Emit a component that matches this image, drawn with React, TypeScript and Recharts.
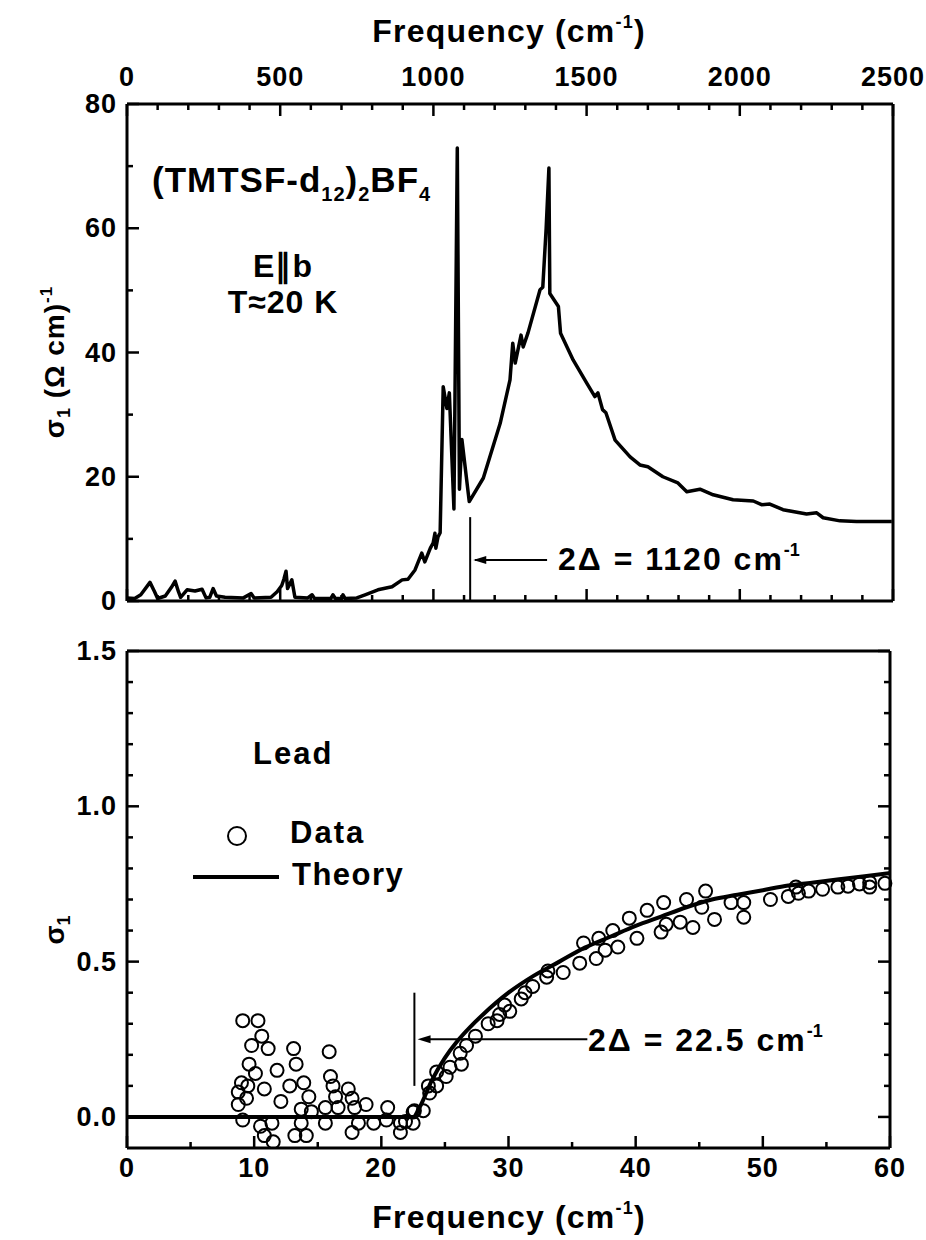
import React from 'react';
import { ComposedChart, Line, Scatter, XAxis, YAxis, ReferenceLine, ReferenceDot } from 'recharts';

// ---------- Top panel: (TMTSF-d12)2BF4, E||b, T~20 K ----------
const topFreq = [0, 25, 45, 75, 90, 100, 125, 145, 157, 168, 175, 196, 222, 245, 258, 270, 281, 292, 320, 380, 405, 415, 470, 490, 505, 512, 519, 524, 532, 538, 548, 590, 604, 612, 665, 672, 680, 700, 705, 712, 750, 777, 819, 865, 898, 917, 940, 962, 972, 990, 999, 1005, 1008, 1015, 1022, 1032, 1044, 1052, 1067, 1078, 1085, 1093, 1117, 1163, 1218, 1250, 1259, 1267, 1286, 1293, 1309, 1348, 1357, 1368, 1377, 1380, 1408, 1415, 1456, 1500, 1527, 1537, 1552, 1563, 1593, 1642, 1674, 1700, 1749, 1798, 1827, 1870, 1913, 1978, 2044, 2071, 2098, 2141, 2218, 2251, 2272, 2327, 2381, 2496];
const topSigma = [0.5, 0.4, 1.0, 3.0, 1.5, 0.4, 0.8, 2.2, 3.2, 1.5, 0.6, 1.8, 1.6, 1.9, 0.5, 0.6, 2.0, 0.8, 0.6, 0.5, 1.2, 0.5, 0.6, 1.5, 2.5, 3.5, 4.8, 2.0, 2.8, 3.4, 0.6, 0.5, 1.0, 0.4, 0.4, 1.0, 0.4, 0.4, 1.0, 0.4, 0.5, 1.0, 1.8, 2.3, 3.4, 3.5, 5.0, 7.7, 6.3, 8.5, 9.3, 10.9, 8.5, 10.3, 11.0, 34.5, 31.0, 33.5, 14.8, 72.9, 18.0, 26.0, 16.0, 19.8, 28.6, 35.6, 41.5, 38.3, 42.8, 40.9, 43.2, 50.1, 50.5, 60.0, 69.7, 49.5, 47.4, 43.1, 38.8, 35.1, 32.9, 33.5, 30.8, 30.3, 25.9, 23.2, 21.9, 21.6, 20.0, 19.0, 17.6, 18.0, 17.1, 16.3, 16.1, 15.5, 15.6, 14.7, 14.0, 14.2, 13.4, 12.9, 12.8, 12.8];
const topXTicks = [0, 100, 200, 300, 400, 500, 600, 700, 800, 900, 1000, 1100, 1200, 1300, 1400, 1500, 1600, 1700, 1800, 1900, 2000, 2100, 2200, 2300, 2400, 2500];
const topYTicks = [0, 10, 20, 30, 40, 50, 60, 70, 80];
const topGap = 1120;

// ---------- Bottom panel: Lead ----------
const leadDataFreq = [9.1, 10.3, 10.6, 9.8, 11.1, 13.1, 15.9, 9.6, 13.3, 10.1, 11.8, 16.0, 9.0, 9.5, 10.8, 12.8, 13.9, 16.2, 17.4, 8.75, 9.4, 14.3, 16.4, 17.7, 12.1, 8.75, 13.7, 14.5, 15.6, 16.6, 17.9, 18.8, 20.5, 22.5, 9.1, 10.5, 11.4, 13.7, 15.6, 18.2, 19.4, 20.4, 21.5, 22.5, 10.8, 13.2, 14.1, 11.5, 17.7, 21.5, 21.9, 22.6, 23.3, 23.8, 23.7, 24.35, 25.1, 24.35, 25.4, 26.3, 26.2, 26.7, 27.4, 28.4, 29.1, 29.3, 30.1, 29.7, 31.0, 31.3, 31.9, 33.0, 33.1, 34.3, 35.6, 35.9, 36.9, 37.1, 37.6, 38.2, 38.6, 39.5, 40.1, 40.9, 42.2, 42.0, 42.4, 43.5, 44.0, 44.5, 45.2, 45.5, 46.2, 47.5, 48.5, 48.5, 50.6, 52.0, 52.6, 52.8, 53.6, 54.7, 55.9, 56.7, 57.6, 58.4, 58.4, 59.6];
const leadDataSigma = [0.31, 0.31, 0.26, 0.23, 0.22, 0.22, 0.21, 0.17, 0.17, 0.14, 0.15, 0.13, 0.11, 0.10, 0.09, 0.10, 0.11, 0.10, 0.09, 0.08, 0.06, 0.065, 0.065, 0.06, 0.05, 0.04, 0.025, 0.017, 0.03, 0.03, 0.03, 0.04, 0.03, 0.016, -0.01, -0.03, -0.02, -0.02, -0.02, -0.02, -0.02, -0.01, -0.02, -0.02, -0.06, -0.06, -0.06, -0.08, -0.05, -0.05, -0.015, 0.02, 0.02, 0.077, 0.10, 0.10, 0.13, 0.145, 0.16, 0.17, 0.205, 0.23, 0.26, 0.30, 0.31, 0.33, 0.34, 0.36, 0.38, 0.40, 0.42, 0.45, 0.47, 0.465, 0.495, 0.56, 0.51, 0.575, 0.537, 0.60, 0.547, 0.64, 0.575, 0.665, 0.69, 0.595, 0.62, 0.627, 0.70, 0.61, 0.675, 0.727, 0.636, 0.69, 0.69, 0.643, 0.70, 0.71, 0.74, 0.72, 0.727, 0.733, 0.74, 0.743, 0.75, 0.755, 0.74, 0.752];
const leadTheoryFreq = [0, 22.5, 23, 24, 25, 26, 27, 28, 30, 32, 34, 36, 38, 40, 42, 44, 46, 48, 50, 52, 54, 56, 58, 60];
const leadTheorySigma = [0, 0, 0.03, 0.12, 0.19, 0.245, 0.29, 0.33, 0.40, 0.455, 0.50, 0.545, 0.58, 0.615, 0.645, 0.675, 0.70, 0.715, 0.73, 0.745, 0.755, 0.765, 0.775, 0.785];
const botXTicks = [0, 5, 10, 15, 20, 25, 30, 35, 40, 45, 50, 55, 60];
const botYTicks = [0, 0.1, 0.2, 0.3, 0.4, 0.5, 0.6, 0.7, 0.8, 0.9, 1.0, 1.1, 1.2, 1.3, 1.4, 1.5];
const leadGap = 22.6;

const topData = topFreq.map((f, i) => ({ f, s: topSigma[i] }));
const leadData = leadDataFreq.map((f, i) => ({ f, s: leadDataSigma[i] }));
const theoryData = leadTheoryFreq.map((f, i) => ({ f, s: leadTheorySigma[i] }));

const FONT = "'Liberation Sans', Arial, Helvetica, sans-serif";
const INK = '#000';

type Side = 'top' | 'bottom' | 'left' | 'right';
function makeTick(side: Side, isMajor: (v: number) => boolean, label: ((v: number) => string) | null, offset: number) {
  return (props: any) => {
    const { x, y, payload } = props;
    const v = payload.value;
    const major = isMajor(v);
    const len = major ? 12 : 6;
    let ln: any = null;
    let tx: any = null;
    const txt = label && major ? label(v) : null;
    const tp = { fontFamily: FONT, fontWeight: 700, fontSize: 27, fill: INK, letterSpacing: 1 } as any;
    if (side === 'top') {
      ln = <line x1={x} y1={y} x2={x} y2={y + len} stroke={INK} strokeWidth={2.5} />;
      if (txt) tx = <text x={x} y={y - offset} textAnchor="middle" dominantBaseline="central" {...tp}>{txt}</text>;
    } else if (side === 'bottom') {
      ln = <line x1={x} y1={y} x2={x} y2={y - len} stroke={INK} strokeWidth={2.5} />;
      if (txt) tx = <text x={x} y={y + offset} textAnchor="middle" dominantBaseline="central" {...tp}>{txt}</text>;
    } else if (side === 'left') {
      ln = <line x1={x} y1={y} x2={x + len} y2={y} stroke={INK} strokeWidth={2.5} />;
      if (txt) tx = <text x={x - offset} y={y} textAnchor="end" dominantBaseline="central" {...tp}>{txt}</text>;
    } else {
      ln = <line x1={x} y1={y} x2={x - len} y2={y} stroke={INK} strokeWidth={2.5} />;
    }
    return <g>{ln}{tx}</g>;
  };
}

const axisLine = { stroke: INK, strokeWidth: 3 };
const near = (v: number, step: number) => Math.abs(v / step - Math.round(v / step)) < 1e-6;

const ArrowHead = (props: any) => {
  const { cx, cy } = props;
  return <polygon points={`${cx},${cy} ${cx + 13},${cy - 4} ${cx + 13},${cy + 4}`} fill={INK} />;
};

const OpenCircle = (props: any) => (
  <circle cx={props.cx} cy={props.cy} r={6.5} fill="none" stroke={INK} strokeWidth={2} />
);

export default function App() {
  return (
    <div style={{ position: 'absolute', left: 0, top: 0, width: 926, height: 1240, background: '#fff' }}>
      <div style={{ position: 'absolute', left: 0, top: 0 }}>
        <ComposedChart width={926} height={626} data={topData} margin={{ top: 0, right: 0, bottom: 0, left: 0 }}>
          <XAxis xAxisId="top" orientation="top" type="number" dataKey="f" domain={[0, 2500]} ticks={topXTicks} interval={0}
            height={104} tickSize={0} tickMargin={0} axisLine={axisLine} tickLine={false}
            tick={makeTick('top', (v) => near(v, 500), (v) => String(v), 27)} />
          <XAxis xAxisId="bot" orientation="bottom" type="number" dataKey="f" domain={[0, 2500]} ticks={topXTicks} interval={0}
            height={25} tickSize={0} tickMargin={0} axisLine={axisLine} tickLine={false}
            tick={makeTick('bottom', (v) => near(v, 500), null, 0)} />
          <YAxis yAxisId="left" orientation="left" type="number" domain={[0, 80]} ticks={topYTicks} interval={0}
            width={127} tickSize={0} tickMargin={0} axisLine={axisLine} tickLine={false}
            tick={makeTick('left', (v) => near(v, 20), (v) => String(v), 10)} />
          <YAxis yAxisId="right" orientation="right" type="number" domain={[0, 80]} ticks={topYTicks} interval={0}
            width={33} tickSize={0} tickMargin={0} axisLine={axisLine} tickLine={false}
            tick={makeTick('right', (v) => near(v, 20), null, 0)} />
          <Line xAxisId="top" yAxisId="left" dataKey="s" type="linear" stroke={INK} strokeWidth={3.5} dot={false}
            isAnimationActive={false} strokeLinejoin="round" />
          <ReferenceLine xAxisId="top" yAxisId="left" segment={[{ x: topGap, y: 0 }, { x: topGap, y: 13.5 }]} stroke={INK} strokeWidth={2} />
          <ReferenceLine xAxisId="top" yAxisId="left" segment={[{ x: 1136, y: 6.6 }, { x: 1371, y: 6.6 }]} stroke={INK} strokeWidth={2} />
          <ReferenceDot xAxisId="top" yAxisId="left" x={1130} y={6.6} shape={ArrowHead} />
        </ComposedChart>
      </div>
      <div style={{ position: 'absolute', left: 0, top: 610 }}>
        <ComposedChart width={926} height={630} margin={{ top: 0, right: 0, bottom: 0, left: 0 }}>
          <XAxis xAxisId="top" orientation="top" type="number" dataKey="f" domain={[0, 60]} ticks={botXTicks} interval={0}
            height={41} tickSize={0} tickMargin={0} axisLine={axisLine} tickLine={false}
            tick={makeTick('top', (v) => near(v, 10), null, 0)} />
          <XAxis xAxisId="bot" orientation="bottom" type="number" dataKey="f" domain={[0, 60]} ticks={botXTicks} interval={0}
            height={92} tickSize={0} tickMargin={0} axisLine={axisLine} tickLine={false}
            tick={makeTick('bottom', (v) => near(v, 10), (v) => String(v), 20)} />
          <YAxis yAxisId="left" orientation="left" type="number" domain={[-0.1, 1.5]} ticks={botYTicks} interval={0}
            width={127} tickSize={0} tickMargin={0} axisLine={axisLine} tickLine={false} allowDataOverflow
            tick={makeTick('left', (v) => near(v, 0.5), (v) => v.toFixed(1), 10)} />
          <YAxis yAxisId="right" orientation="right" type="number" domain={[-0.1, 1.5]} ticks={botYTicks} interval={0}
            width={36} tickSize={0} tickMargin={0} axisLine={axisLine} tickLine={false} allowDataOverflow
            tick={makeTick('right', (v) => near(v, 0.5), null, 0)} />
          <Scatter xAxisId="bot" yAxisId="left" data={leadData} dataKey="s" shape={OpenCircle} isAnimationActive={false} />
          <Line xAxisId="bot" yAxisId="left" data={theoryData} dataKey="s" type="monotone" stroke={INK} strokeWidth={4} dot={false}
            isAnimationActive={false} />
          <ReferenceLine xAxisId="bot" yAxisId="left" segment={[{ x: leadGap, y: 0.1 }, { x: leadGap, y: 0.4 }]} stroke={INK} strokeWidth={2} />
          <ReferenceLine xAxisId="bot" yAxisId="left" segment={[{ x: 23.3, y: 0.25 }, { x: 36.2, y: 0.25 }]} stroke={INK} strokeWidth={2} />
          <ReferenceDot xAxisId="bot" yAxisId="left" x={22.85} y={0.25} shape={ArrowHead} />
        </ComposedChart>
      </div>
      <svg width={926} height={1240} style={{ position: 'absolute', left: 0, top: 0, pointerEvents: 'none' }}>
        <g fontFamily={FONT} fontWeight={700} fill={INK}>
          <text x={509} y={42} textAnchor="middle" fontSize={32} letterSpacing={1.2}>Frequency (cm<tspan fontSize={18} dy={-14}>-1</tspan><tspan dy={14}>)</tspan></text>
          <text x={509} y={1228} textAnchor="middle" fontSize={32} letterSpacing={1.2}>Frequency (cm<tspan fontSize={18} dy={-14}>-1</tspan><tspan dy={14}>)</tspan></text>
          <text transform="rotate(-90 64 362)" x={64} y={362} textAnchor="middle" fontSize={28} letterSpacing={1}>σ<tspan fontSize={18} dy={6}>1</tspan><tspan dy={-6}> (Ω cm)</tspan><tspan fontSize={17} dy={-12}>-1</tspan></text>
          <text transform="rotate(-90 64 930)" x={64} y={930} textAnchor="middle" fontSize={28}>σ<tspan fontSize={18} dy={6}>1</tspan></text>
          <text x={152} y={192} fontSize={35} letterSpacing={1}>(TMTSF-d<tspan fontSize={20} dy={9}>12</tspan><tspan dy={-9}>)</tspan><tspan fontSize={20} dy={9}>2</tspan><tspan dy={-9}>BF</tspan><tspan fontSize={20} dy={9}>4</tspan></text>
          <text x={283} y={277} textAnchor="middle" fontSize={32} letterSpacing={1}>E∥b</text>
          <text x={283} y={313} textAnchor="middle" fontSize={32} letterSpacing={1}>T≈20 K</text>
          <text x={558} y={570} fontSize={32} letterSpacing={2}>2Δ = 1120 cm<tspan fontSize={18} dy={-14} letterSpacing={0}>-1</tspan></text>
          <text x={253} y={764} fontSize={31} letterSpacing={2}>Lead</text>
          <circle cx={237} cy={836} r={9} fill="none" stroke={INK} strokeWidth={2} />
          <text x={290} y={843} fontSize={31} letterSpacing={2}>Data</text>
          <line x1={193} y1={877} x2={279} y2={877} stroke={INK} strokeWidth={4} />
          <text x={292} y={885} fontSize={31} letterSpacing={1.5}>Theory</text>
          <text x={588} y={1051} fontSize={32} letterSpacing={2}>2Δ = 22.5 cm<tspan fontSize={18} dy={-14} letterSpacing={0}>-1</tspan></text>
        </g>
      </svg>
    </div>
  );
}
